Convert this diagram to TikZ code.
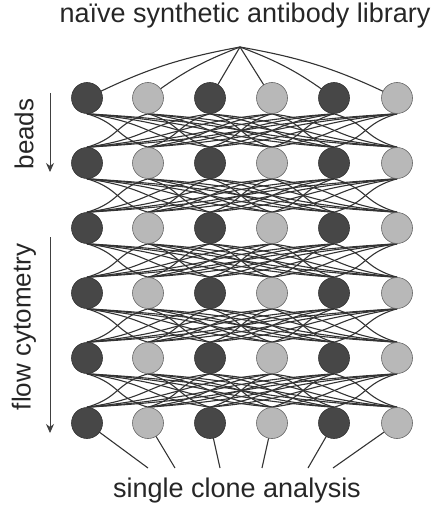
\documentclass[tikz,border=0pt]{standalone}
\usepackage{fontspec}
\setmainfont{Liberation Sans}
\usetikzlibrary{arrows.meta,backgrounds,calc}
\tikzset{
  darkc/.style={circle,minimum size=31pt,inner sep=0pt,fill=black!72,draw=black!80,line width=0.6pt},
  lightc/.style={circle,minimum size=31pt,inner sep=0pt,fill=black!28,draw=black!60,line width=0.6pt},
  wire/.style={draw=black!80,line width=1.1pt},
  lbl/.style={font=\fontsize{27}{29}\selectfont,text=black!85,inner sep=0pt},
  sidelbl/.style={font=\fontsize{26}{28}\selectfont,text=black!85,inner sep=0pt,rotate=90},
  sidearrow/.style={draw=black!75,line width=0.8pt,-{Stealth[length=9pt,width=8pt]}}
}
\begin{document}
\begin{tikzpicture}[x=1pt,y=-1pt]
\useasboundingbox (0,0) rectangle (435,508);
\def\xs{{87,148,210,272,334,397}}
\def\ys{{98,163,228,293,358,423}}
% circles
\foreach \k in {1,...,6}{
  \foreach \i in {1,...,6}{
    \pgfmathsetmacro{\cx}{\xs[\i-1]}
    \pgfmathsetmacro{\cy}{\ys[\k-1]}
    \ifodd\i
      \node[darkc] (c-\k-\i) at (\cx,\cy) {};
    \else
      \node[lightc] (c-\k-\i) at (\cx,\cy) {};
    \fi
  }
}
\coordinate (apex) at (240,47);
\foreach \i/\bx in {1/148,2/175,3/220,4/262,5/308,6/333}{
  \coordinate (b-\i) at (\bx,468);
}
\begin{scope}[on background layer]
  % fan from the top
  \draw[wire] (apex) to[bend right=8] (c-1-1.center);
  \draw[wire] (apex) to[bend right=8] (c-1-2.center);
  \draw[wire] (apex) -- (c-1-3.center);
  \draw[wire] (apex) -- (c-1-4.center);
  \draw[wire] (apex) to[bend left=8] (c-1-5.center);
  \draw[wire] (apex) to[bend left=8] (c-1-6.center);
  % layers
  \foreach \k [evaluate=\k as \kn using int(\k+1)] in {1,...,5}{
    \foreach \i in {1,...,6}{
      \foreach \j in {1,...,6}{
        \ifnum\i=\j\else
        \draw[wire] (c-\k-\i.south) .. controls ($(c-\k-\i.south)!0.55!(c-\k-\i.south -| c-\kn-\j.north)+(0,10)$) and ($(c-\kn-\j.north)!0.55!(c-\kn-\j.north -| c-\k-\i.south)+(0,-10)$) .. (c-\kn-\j.north);
        \fi
      }
    }
  }
  % bottom
  \foreach \i in {1,...,6}{
    \draw[wire] (c-6-\i.center) -- (b-\i);
  }
\end{scope}
\node[lbl] (title) at (245,16) {naïve synthetic antibody library};
\node[lbl] (bottom) at (237,491) {single clone analysis};
\node[sidelbl] (beads) at (24,134) {beads};
\node[sidelbl] (flow) at (24,327) {flow cytometry};
\coordinate (a1s) at (50,93);
\coordinate (a1e) at (50,172);
\coordinate (a2s) at (50,237);
\coordinate (a2e) at (50,433);
\draw[sidearrow] (a1s) -- (a1e);
\draw[sidearrow] (a2s) -- (a2e);
\end{tikzpicture}
\end{document}
